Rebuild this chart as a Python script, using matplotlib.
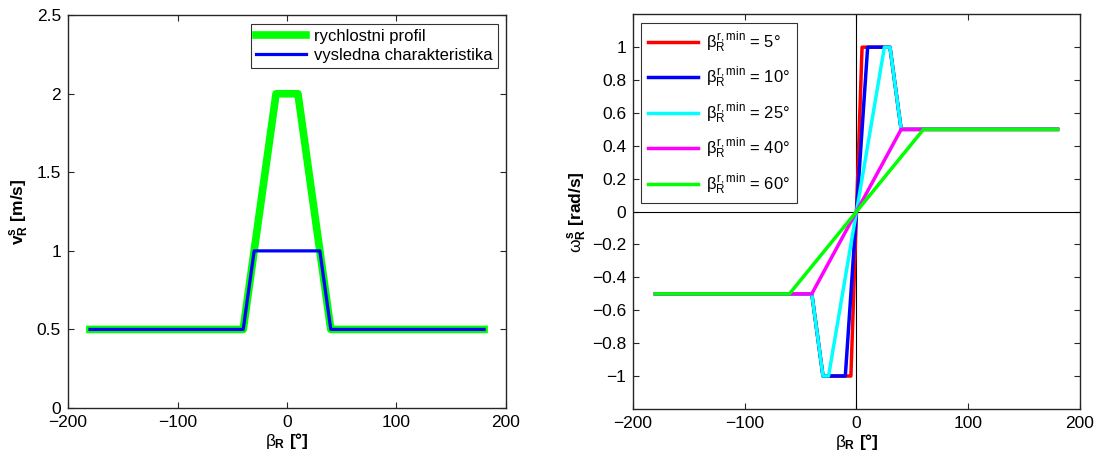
import numpy as np
import matplotlib.pyplot as plt

plt.rcParams['font.family'] = ['Liberation Sans', 'DejaVu Sans']
plt.rcParams['mathtext.fontset'] = 'custom'
plt.rcParams['mathtext.rm'] = 'Liberation Sans'
plt.rcParams['mathtext.it'] = 'Liberation Sans'
plt.rcParams['mathtext.bf'] = 'Liberation Sans:bold'

# left plot data
beta_profile = [-180, -40, -10, 10, 40, 180]
v_profile = [0.5, 0.5, 2.0, 2.0, 0.5, 0.5]
beta_result = [-180, -40, -30, 30, 40, 180]
v_result = [0.5, 0.5, 1.0, 1.0, 0.5, 0.5]

# right plot data (odd symmetric curves)
beta_min = [5, 10, 25, 40, 60]
colors = ['#ff0000', '#0000ff', '#00ffff', '#ff00ff', '#00ff00']
beta_pos = [
    [0, 5, 30, 40, 180],
    [0, 10, 30, 40, 180],
    [0, 25, 30, 40, 180],
    [0, 40, 180],
    [0, 60, 180],
]
omega_pos = [
    [0, 1, 1, 0.5, 0.5],
    [0, 1, 1, 0.5, 0.5],
    [0, 1, 1, 0.5, 0.5],
    [0, 0.5, 0.5],
    [0, 0.5, 0.5],
]

fig = plt.figure(figsize=(11.03, 4.61), dpi=100)
ax1 = fig.add_axes([0.0617, 0.115, 0.397, 0.852])
ax2 = fig.add_axes([0.574, 0.113, 0.405, 0.856])

edge = '#262626'
for ax in (ax1, ax2):
    ax.tick_params(direction='in', top=True, right=True, labelsize=12.5,
                   length=4, color=edge, pad=5)
    for s in ax.spines.values():
        s.set_color(edge)
        s.set_linewidth(1.0)

ax1.plot(beta_profile, v_profile, color='#00ff00', lw=5.5, label='rychlostni profil')
ax1.plot(beta_result, v_result, color='#0000ff', lw=2.3, label='vysledna charakteristika')
ax1.set_xlim(-200, 200)
ax1.set_ylim(0, 2.5)
ax1.set_xticks([-200, -100, 0, 100, 200])
ax1.set_xticklabels(['\u2212200', '\u2212100', '0', '100', '200'])
ax1.set_yticks([0, 0.5, 1, 1.5, 2, 2.5])
ax1.set_yticklabels(['0', '0.5', '1', '1.5', '2', '2.5'])
ax1.set_xlabel(r'$\beta_{\mathbf{R}}$ [°]', fontsize=12.5, fontweight='bold', labelpad=1)
ax1.set_ylabel(r'$\mathbf{v}_{\mathbf{R}}^{\mathbf{s}}$ [m/s]', fontsize=12.5,
               fontweight='bold', labelpad=4)
leg1 = ax1.legend(loc='upper right', fontsize=12, handlelength=3.0, fancybox=False,
                  edgecolor='black', borderaxespad=0.5, labelspacing=0.25,
                  borderpad=0.3, handletextpad=0.5)
leg1.get_frame().set_linewidth(0.8)

ax2.axhline(0, color='black', lw=0.8)
ax2.axvline(0, color='black', lw=0.8)
for bmin, col, bp, op in zip(beta_min, colors, beta_pos, omega_pos):
    bp = np.array(bp, dtype=float)
    op = np.array(op, dtype=float)
    x = np.concatenate([-bp[::-1], bp[1:]])
    y = np.concatenate([-op[::-1], op[1:]])
    ax2.plot(x, y, color=col, lw=2.5,
             label=r'$\beta_{R}^{r,min}$ = %d°' % bmin)
ax2.set_xlim(-200, 200)
ax2.set_ylim(-1.2, 1.2)
ax2.set_xticks([-200, -100, 0, 100, 200])
ax2.set_xticklabels(['\u2212200', '\u2212100', '0', '100', '200'])
yt = [-1, -0.8, -0.6, -0.4, -0.2, 0, 0.2, 0.4, 0.6, 0.8, 1]
ax2.set_yticks(yt)
ax2.set_yticklabels([('%g' % v).replace('-', '\u2212') for v in yt])
ax2.set_xlabel(r'$\beta_{\mathbf{R}}$ [°]', fontsize=12.5, fontweight='bold', labelpad=1)
ax2.set_ylabel(r'$\omega_{\mathbf{R}}^{\mathbf{s}}$ [rad/s]', fontsize=12.5,
               fontweight='bold', labelpad=2)
leg2 = ax2.legend(loc='upper left', fontsize=12, handlelength=3.0, fancybox=False,
                  edgecolor='black', borderaxespad=0.5, labelspacing=0.6,
                  borderpad=0.4, handletextpad=0.5)
leg2.get_frame().set_linewidth(0.8)

fig.savefig('out.png', dpi=100)
